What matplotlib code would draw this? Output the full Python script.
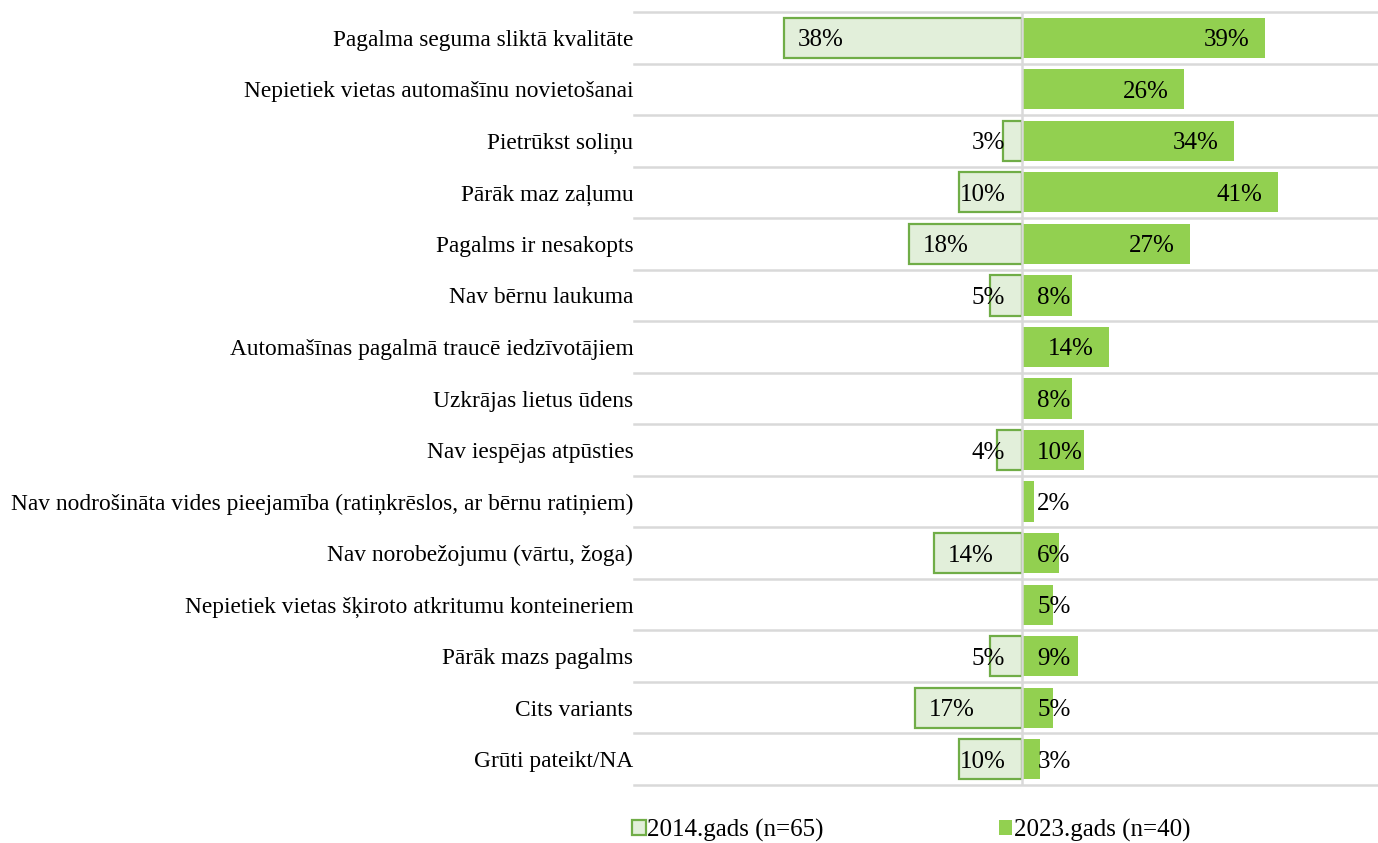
import matplotlib
matplotlib.use("Agg")
import matplotlib.pyplot as plt
from matplotlib.patches import Patch

categories = [
    "Pagalma seguma sliktā kvalitāte",
    "Nepietiek vietas automašīnu novietošanai",
    "Pietrūkst soliņu",
    "Pārāk maz zaļumu",
    "Pagalms ir nesakopts",
    "Nav bērnu laukuma",
    "Automašīnas pagalmā traucē iedzīvotājiem",
    "Uzkrājas lietus ūdens",
    "Nav iespējas atpūsties",
    "Nav nodrošināta vides pieejamība (ratiņkrēslos, ar bērnu ratiņiem)",
    "Nav norobežojumu (vārtu, žoga)",
    "Nepietiek vietas šķiroto atkritumu konteineriem",
    "Pārāk mazs pagalms",
    "Cits variants",
    "Grūti pateikt/NA",
]
v2014 = [38, None, 3, 10, 18, 5, None, None, 4, None, 14, None, 5, 17, 10]
v2023 = [39, 26, 34, 41, 27, 8, 14, 8, 10, 2, 6, 5, 9, 5, 3]
legend_labels = ["2014.gads (n=65)", "2023.gads (n=40)"]

plt.rcParams['font.family'] = ['Liberation Serif', 'DejaVu Serif']
FS_CAT = 16.8
FS = 18

fig = plt.figure(figsize=(13.78, 8.43), dpi=100)
ax = fig.add_axes([634/1378, 1-785/843, 1-634/1378, (785-12)/843])

n = len(categories)
ys = list(range(n))
h = 0.78
c_light = "#e2efda"
c_edge = "#70ad47"
c_dark = "#92d050"

for i in range(n + 1):
    ax.axhline(i - 0.5, color="#d9d9d9", lw=1.8, zorder=0, clip_on=False)

for i, v in enumerate(v2014):
    if v is None:
        continue
    ax.barh(i, -v, height=h, color=c_light, edgecolor=c_edge, lw=1.6, zorder=2)
    if v >= 12:
        ax.text(-v + 2.2, i, f"{v}%", ha="left", va="center_baseline", fontsize=FS, zorder=4)
    else:
        ax.text(-2.6, i, f"{v}%", ha="right", va="center_baseline", fontsize=FS, zorder=4)

for i, v in enumerate(v2023):
    ax.barh(i, v, height=h, color=c_dark, edgecolor="none", zorder=2)
    if v >= 12:
        ax.text(v - 2.5, i, f"{v}%", ha="right", va="center_baseline", fontsize=FS, zorder=4)
    else:
        ax.text(2.5, i, f"{v}%", ha="left", va="center_baseline", fontsize=FS, zorder=4)

ax.axvline(0, color="#d9d9d9", lw=1.8, zorder=3)

ax.set_xlim(-62, 57)
ax.set_ylim(n - 0.5, -0.5)
ax.set_yticks(ys)
ax.set_yticklabels(categories, fontsize=FS_CAT)
ax.tick_params(axis="y", length=0, pad=0.5)
ax.set_xticks([])
for s in ax.spines.values():
    s.set_visible(False)

handles = [Patch(facecolor=c_light, edgecolor=c_edge, lw=1.6),
           Patch(facecolor=c_dark, edgecolor="none")]
fig.legend(handles, legend_labels, loc="center left",
           bbox_to_anchor=(632/1378, 1-830/843), ncol=2, frameon=False,
           fontsize=FS, handlelength=0.55, handleheight=0.55, handletextpad=0.05,
           columnspacing=7.0, borderpad=0, borderaxespad=0)

fig.savefig("out.png", dpi=100)
